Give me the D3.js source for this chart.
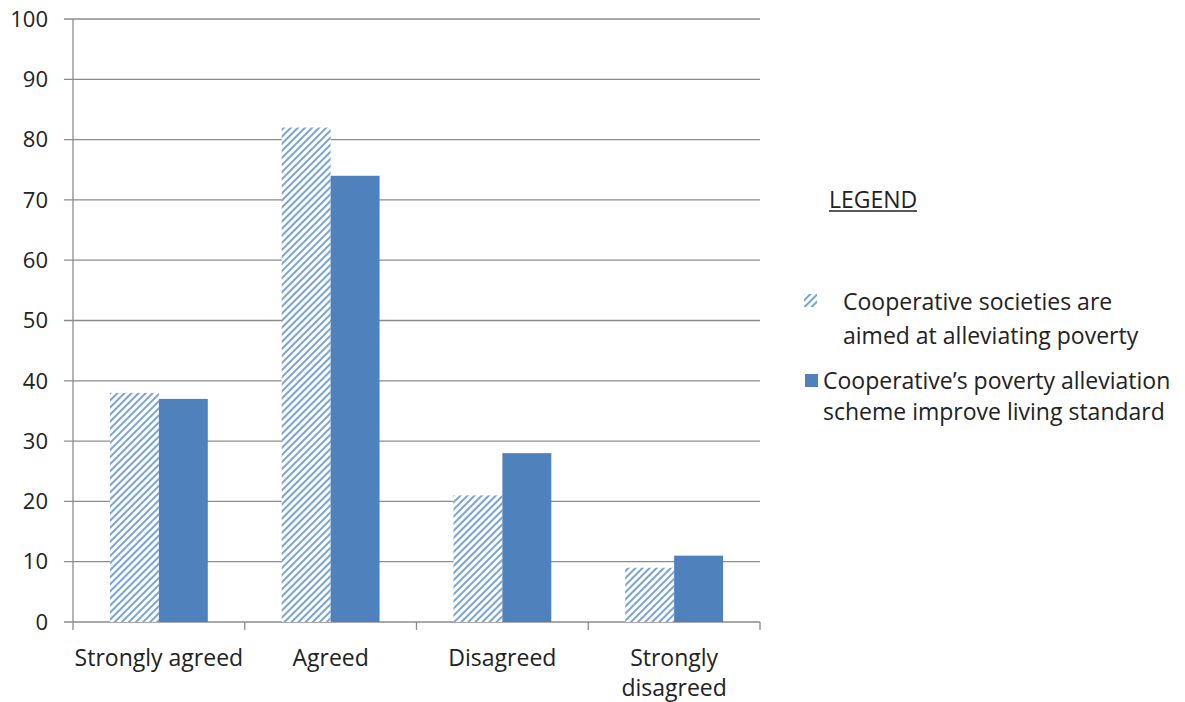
<!DOCTYPE html>
<html><head><meta charset="utf-8">
<script src="https://cdn.jsdelivr.net/npm/d3@7/dist/d3.min.js"></script>
<style>body{margin:0;background:#fff}text{font-family:"Open Sans",sans-serif;fill:#222}</style>
</head><body><svg id="c" width="1185" height="702"></svg>
<script>
const categories = ["Strongly agreed","Agreed","Disagreed","Strongly disagreed"];
const series1 = [38,82,21,9];
const series2 = [37,74,28,11];
const seriesNames = ["Cooperative societies are aimed at alleviating poverty","Cooperative’s poverty alleviation scheme improve living standard"];
const yTicks = [0,10,20,30,40,50,60,70,80,90,100];

const svg = d3.select("#c");
const L=73,R=760,T=19,B=622;
const x = d3.scaleBand().domain(categories).range([L,R]).paddingInner(0).paddingOuter(0);
const y = d3.scaleLinear().domain([0,100]).range([B,T]);
const inner = d3.scaleBand().domain([0,1]).range([0,x.bandwidth()]).paddingOuter(0.755).paddingInner(0);

const defs = svg.append("defs");
const pat = defs.append("pattern").attr("id","hatch").attr("patternUnits","userSpaceOnUse")
  .attr("width",5).attr("height",5).attr("patternTransform","rotate(45)");
pat.append("rect").attr("width",5).attr("height",5).attr("fill","#fff");
pat.append("rect").attr("x",0).attr("width",2).attr("height",5).attr("fill","#7aa3d6");

// grid
svg.append("g").selectAll("line").data(yTicks).join("line")
  .attr("x1",64).attr("x2",R).attr("y1",d=>y(d)).attr("y2",d=>y(d))
  .attr("stroke","#8c8c8c").attr("stroke-width",1.3);
// y labels
svg.append("g").selectAll("text").data(yTicks).join("text")
  .attr("x",48).attr("y",d=>y(d)).attr("dy","0.35em").attr("text-anchor","end")
  .attr("font-size",22).text(d=>d);
// y axis line
svg.append("line").attr("x1",L).attr("x2",L).attr("y1",T).attr("y2",B+8).attr("stroke","#8c8c8c").attr("stroke-width",1.3);
// x ticks
const bounds = categories.map(c=>x(c)+x.bandwidth());
svg.append("g").selectAll("line").data(bounds).join("line")
  .attr("x1",d=>d).attr("x2",d=>d).attr("y1",B).attr("y2",B+8).attr("stroke","#8c8c8c").attr("stroke-width",1.3);

// bars
const g = svg.append("g");
g.selectAll("rect.s1").data(series1).join("rect").attr("class","s1")
  .attr("x",(d,i)=>x(categories[i])+inner(0)).attr("width",inner.bandwidth())
  .attr("y",d=>y(d)).attr("height",d=>B-y(d)).attr("fill","url(#hatch)");
g.selectAll("rect.s2").data(series2).join("rect").attr("class","s2")
  .attr("x",(d,i)=>x(categories[i])+inner(1)).attr("width",inner.bandwidth())
  .attr("y",d=>y(d)).attr("height",d=>B-y(d)).attr("fill","#4f81bd");

// x labels
const lbl = {"Strongly disagreed":["Strongly","disagreed"]};
categories.forEach(c=>{
  const lines = lbl[c]||[c];
  const t = svg.append("text").attr("y",658).attr("text-anchor","middle").attr("font-size",23);
  lines.forEach((s,i)=>t.append("tspan").attr("x",x(c)+x.bandwidth()/2).attr("dy",i?30:"0.35em").text(s));
});

// legend
svg.append("text").attr("x",829).attr("y",200).attr("dy","0.35em").attr("font-size",23).text("LEGEND");
svg.append("line").attr("x1",829).attr("x2",917).attr("y1",211).attr("y2",211).attr("stroke","#222").attr("stroke-width",1.3);
svg.append("rect").attr("x",804).attr("y",294).attr("width",13).attr("height",13).attr("fill","url(#hatch)");
const t1 = svg.append("text").attr("font-size",23);
t1.append("tspan").attr("x",843).attr("y",302).attr("dy","0.35em").text("Cooperative societies are");
t1.append("tspan").attr("x",843).attr("y",336).attr("dy","0.35em").text("aimed at alleviating poverty");
svg.append("rect").attr("x",805).attr("y",374).attr("width",13).attr("height",13).attr("fill","#4f81bd");
const t2 = svg.append("text").attr("font-size",23);
t2.append("tspan").attr("x",823).attr("y",381).attr("dy","0.35em").text("Cooperative’s poverty alleviation");
t2.append("tspan").attr("x",823).attr("y",412).attr("dy","0.35em").text("scheme improve living standard");
</script></body></html>
